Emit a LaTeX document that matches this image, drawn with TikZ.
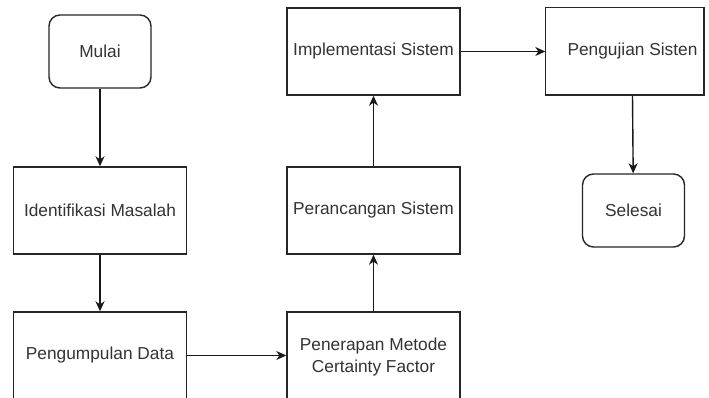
\documentclass[tikz,border=0pt]{standalone}
\usepackage{fontspec}
\setmainfont{Liberation Sans}
\usetikzlibrary{arrows.meta}
\begin{document}
\begin{tikzpicture}[x=1pt,y=-1pt,
  every node/.style={font=\fontsize{17.3}{22}\selectfont, text=black!80, align=center, inner sep=0pt},
  procbox/.style={draw=black!85, line width=1.4pt, minimum width=173pt, minimum height=87pt},
  termbox/.style={draw=black!85, line width=1.4pt, rounded corners=11pt, minimum width=102pt, minimum height=73pt},
  flow/.style={draw=black!90, line width=1.4pt, -{Stealth[length=10pt,width=9pt,inset=3pt]}}]
\useasboundingbox (0,0) rectangle (709,398);
\fill[white] (0,0) rectangle (709,398);
\node[termbox] (mulai) at (100,51.5) {Mulai};
\node[procbox] (ident) at (100,210.5) {Identifikasi Masalah};
\node[procbox] (kumpul) at (100,355.5) {Pengumpulan Data};
\node[procbox, text depth=0pt] (terap) at (373.5,355.5) {\raisebox{-4pt}{}Penerapan Metode\\Certainty Factor};
\node[procbox] (ranc) at (373.5,210.5) {Perancangan Sistem};
\node[procbox] (impl) at (373.5,51.5) {Implementasi Sistem};
\node[procbox, draw=none] (uji) at (632.5,51.5) {Pengujian Sisten};
\draw[draw=black!85, line width=1.4pt] (uji.north west) rectangle (704,95);
\node[termbox] (selesai) at (633.5,210.5) {Selesai};
\draw[flow] (mulai) -- (ident);
\draw[flow] (ident) -- (kumpul);
\draw[flow] (kumpul) -- (terap);
\draw[flow] (terap) -- (ranc);
\draw[flow] (ranc) -- (impl);
\draw[flow] (impl) -- (uji);
\draw[flow] (uji.south) -- (selesai);
\end{tikzpicture}
\end{document}
